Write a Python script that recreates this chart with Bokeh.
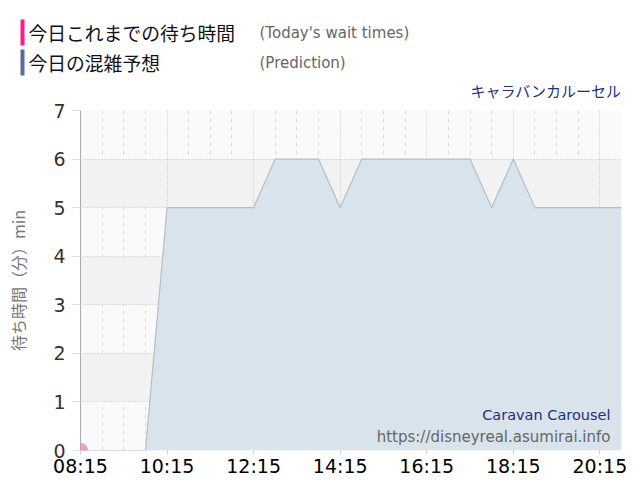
from bokeh.plotting import figure
from bokeh.models import Range1d, FixedTicker, Grid
from bokeh.layouts import column, row
from bokeh.embed import file_html
from bokeh.resources import INLINE
from bokeh.core.properties import value

# ---- data ----
times = ["08:15", "08:45", "09:15", "09:45", "10:15", "10:45", "11:15", "11:45",
         "12:15", "12:45", "13:15", "13:45", "14:15", "14:45", "15:15", "15:45",
         "16:15", "16:45", "17:15", "17:45", "18:15", "18:45", "19:15", "19:45",
         "20:15", "20:45"]
prediction = [0, 0, 0, 0, 5, 5, 5, 5,
              5, 6, 6, 6, 5, 6, 6, 6,
              6, 6, 6, 5, 6, 5, 5, 5,
              5, 5]
actual_times = ["08:15"]
actual_waits = [0]
x_tick_labels = ["08:15", "10:15", "12:15", "14:15", "16:15", "18:15", "20:15"]
y_ticks = [0, 1, 2, 3, 4, 5, 6, 7]
legend_ja = ["今日これまでの待ち時間", "今日の混雑予想"]
legend_en = ["(Today's wait times)", "(Prediction)"]
legend_colors = ["#ff1a8c", "#5b6a9c"]
title_ja = "キャラバンカルーセル"
title_en = "Caravan Carousel"
site_url = "https://disneyreal.asumirai.info"
y_label = "待ち時間（分）min"


def to_min(t):
    h, m = t.split(":")
    return int(h) * 60 + int(m)


xs = [to_min(t) for t in times]
ax = [to_min(t) for t in actual_times]
major_ticks = [to_min(t) for t in x_tick_labels]
minor_grid = [t for t in range(xs[0], xs[-1] + 1, 30) if t not in major_ticks]

JP = "Noto Sans CJK JP"
LAT = "DejaVu Sans"
NAVY = "#26307a"

# ---- header ----
W = 640
HH = 100
h = figure(width=W, height=HH, x_range=Range1d(0, W), y_range=Range1d(HH, 0),
           x_axis_type=None, y_axis_type=None,
           output_backend="svg", toolbar_location=None, min_border=0)
h.grid.visible = False
h.outline_line_color = None
h.background_fill_color = "white"
h.border_fill_color = "white"

row_y = [32, 62]
h.quad(left=[20, 20], right=[24, 24], top=[y - 13 for y in row_y],
       bottom=[y + 13 for y in row_y], fill_color=legend_colors, line_color=None)
h.text(x=[28, 28], y=row_y, text=legend_ja, text_font=value(JP),
       text_font_size="18.8px", text_color="#111111", text_baseline="middle",
       text_align="left")
h.text(x=[259, 259], y=row_y, text=legend_en, text_font=value(LAT),
       text_font_size="15px", text_color="#666666", text_baseline="middle",
       text_align="left")
h.text(x=[620], y=[90], text=[title_ja], text_font=value(JP),
       text_font_size="15px", text_color=NAVY, text_baseline="middle",
       text_align="right")

# ---- main chart ----
p = figure(frame_width=541, frame_height=340, x_range=Range1d(xs[0], xs[-1]),
           y_range=Range1d(0, 7), output_backend="svg", toolbar_location=None,
           min_border_left=80, min_border_right=19, min_border_top=10,
           min_border_bottom=50)
p.outline_line_color = None
p.background_fill_color = "#fafafa"
p.border_fill_color = "white"

p.ygrid.ticker = FixedTicker(ticks=y_ticks)
p.ygrid.grid_line_color = "#c8c8c8"
p.ygrid.grid_line_dash = "1 2"
p.ygrid.band_fill_color = "#f2f2f2"
p.ygrid.band_fill_alpha = 1.0
p.xgrid.ticker = FixedTicker(ticks=minor_grid)
p.xgrid.grid_line_color = "#dcdcdc"
p.xgrid.grid_line_dash = "4 4"
p.add_layout(Grid(dimension=0, ticker=FixedTicker(ticks=major_ticks),
                  grid_line_color="#c4c4c4", grid_line_dash="1 2"))

p.varea(x=xs, y1=[0] * len(xs), y2=prediction, fill_color="#d9e3eb",
        fill_alpha=1.0)
p.line(x=xs, y=prediction, line_color="#b0bfcb", line_width=1.2)
p.scatter(x=ax, y=actual_waits, size=15, fill_color="#f598c8",
          line_color=None)

p.text(x=[xs[-1]], y=[0], text=[title_en], text_font=value(LAT),
       text_font_size="14.5px", text_color=NAVY, text_align="right",
       text_baseline="middle", x_offset=-11, y_offset=-36)
p.text(x=[xs[-1]], y=[0], text=[site_url], text_font=value(LAT),
       text_font_size="15px", text_color="#666666", text_align="right",
       text_baseline="middle", x_offset=-11, y_offset=-14)

p.xaxis.ticker = FixedTicker(ticks=major_ticks)
p.xaxis.major_label_overrides = {t: l for t, l in zip(major_ticks, x_tick_labels)}
p.xaxis.axis_line_color = None
p.xaxis.major_tick_line_color = "#cccccc"
p.xaxis.major_tick_out = 4
p.xaxis.major_tick_in = 0
p.xaxis.minor_tick_line_color = None
p.xaxis.major_label_standoff = 0
p.xaxis.major_label_text_font = LAT
p.xaxis.major_label_text_font_size = "19px"
p.xaxis.major_label_text_color = "#000000"

p.yaxis.ticker = FixedTicker(ticks=y_ticks)
p.yaxis.axis_line_color = "#aaaaaa"
p.yaxis.major_tick_line_color = "#dddddd"
p.yaxis.major_tick_out = 8
p.yaxis.major_tick_in = 0
p.yaxis.minor_tick_line_color = None
p.yaxis.major_label_standoff = 7
p.yaxis.major_label_text_font = LAT
p.yaxis.major_label_text_font_size = "19px"
p.yaxis.major_label_text_color = "#333333"
p.yaxis.axis_label = y_label
p.yaxis.axis_label_text_font = JP
p.yaxis.axis_label_text_font_size = "16px"
p.yaxis.axis_label_text_font_style = "normal"
p.yaxis.axis_label_text_color = "#777777"
p.yaxis.axis_label_standoff = 20

layout = column(row(h), p, spacing=0)
open("out.html", "w").write(file_html(layout, INLINE))
